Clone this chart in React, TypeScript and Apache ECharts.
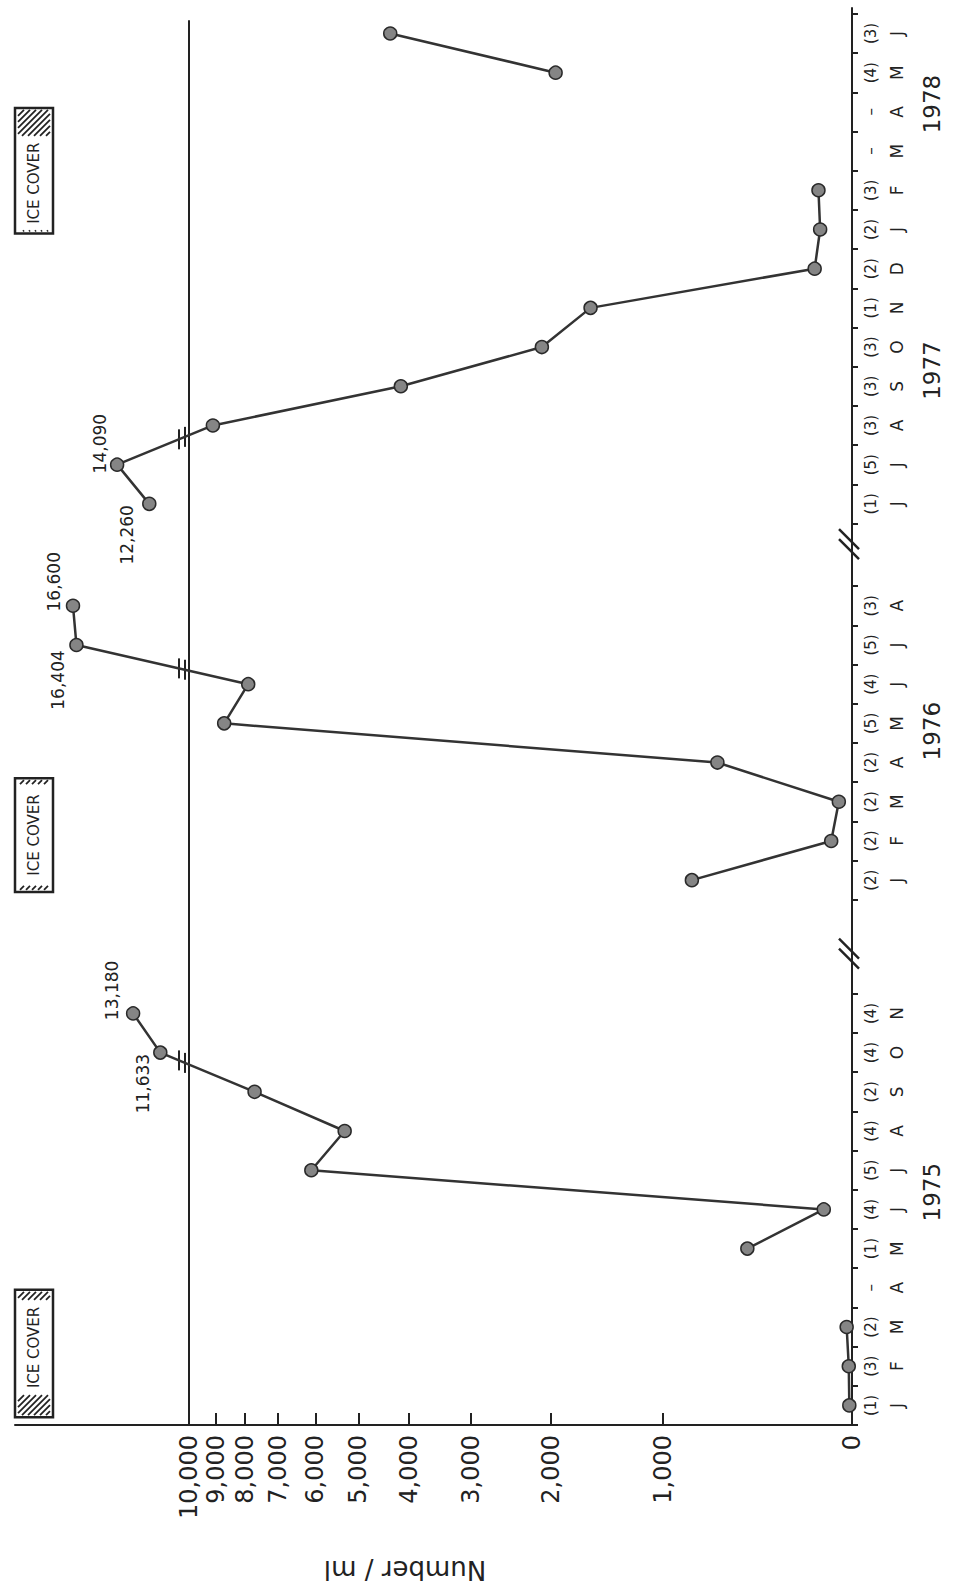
import React, { useEffect, useRef } from 'react';
import * as echarts from 'echarts';

// ---------------- data ----------------
const months1975 = ['J', 'F', 'M', 'A', 'M', 'J', 'J', 'A', 'S', 'O', 'N'];
const counts1975 = ['(1)', '(3)', '(2)', '–', '(1)', '(4)', '(5)', '(4)', '(2)', '(4)', '(4)'];
const values1975: (number | null)[] = [10, 12, 20, null, 470, 110, 6100, 5300, 7700, 11633, 13180];

const months1976 = ['J', 'F', 'M', 'A', 'M', 'J', 'J', 'A'];
const counts1976 = ['(2)', '(2)', '(2)', '(2)', '(5)', '(4)', '(5)', '(3)'];
const values1976: (number | null)[] = [800, 80, 50, 640, 8700, 7900, 16404, 16600];

const months1977 = ['J', 'J', 'A', 'S', 'O', 'N', 'D', 'J', 'F', 'M', 'A', 'M', 'J'];
const counts1977 = ['(1)', '(5)', '(3)', '(3)', '(3)', '(1)', '(2)', '(2)', '(3)', '–', '–', '(4)', '(3)'];
const values1977: (number | null)[] = [12260, 14090, 9100, 4150, 2100, 1600, 148, 125, 132, null, null, 1950, 4350];

const yearLabels = ['1975', '1976', '1977', '1978'];
const valueTicks = [0, 1000, 2000, 3000, 4000, 5000, 6000, 7000, 8000, 9000, 10000];
const valueTickLabels = ['0', '1,000', '2,000', '3,000', '4,000', '5,000', '6,000', '7,000', '8,000', '9,000', '10,000'];
const iceCoverLabel = 'ICE COVER';
const axisTitle = 'Number / ml';

// ice cover periods along the time axis (month units from Jan 1975)
const iceCoverPeriods: [number, number][] = [[0.2, 3.45], [13.6, 16.5], [30.4, 33.6]];

// ---------------- layout / scale ----------------
const SCALE_C = 1040;
const BREAK_VALUE = 10000;
const BEYOND_SLOPE = 2.72e-5;
const T_BREAK = Math.log10(BREAK_VALUE / SCALE_C + 1);
const fwd = (v: number) =>
  v <= BREAK_VALUE ? Math.log10(v / SCALE_C + 1) : T_BREAK + (v - BREAK_VALUE) * BEYOND_SLOPE;

const GRID = { left: 15, right: 103, top: 8, bottom: 162 };
const TMAX = 1.2952;
const YMAX = 36.15;

const segStarts = [0.5, 13.9, 23.5];
const yearPositions = [5.94, 17.7, 26.9, 33.7];
const axisBreaks = [12.0, 22.45];
const timeTicks: number[] = [];
for (let i = 0; i <= 11; i++) timeTicks.push(i);
for (let i = 0; i <= 8; i++) timeTicks.push(13.4 + i);
for (let i = 0; i <= 13; i++) timeTicks.push(23 + i);

const annotOffsets: Record<string, [number, number]> = {
  '11633': [-17, 31],
  '13180': [-21, -23],
  '16404': [-18, 35],
  '16600': [-19, -24],
  '12260': [-22, 31],
  '14090': [-17, -21],
};
const iceHatch = [
  { top: 10, bottom: 22 },
  { top: 6, bottom: 6 },
  { top: 28, bottom: 3 },
];
const ICE_X = 15;
const ICE_W = 38;

const INK = '#222';
const FONT = '"DejaVu Sans", sans-serif';

const segments = [
  { months: months1975, counts: counts1975, values: values1975, start: segStarts[0] },
  { months: months1976, counts: counts1976, values: values1976, start: segStarts[1] },
  { months: months1977, counts: counts1977, values: values1977, start: segStarts[2] },
];

export default function App() {
  const ref = useRef<HTMLDivElement>(null);

  useEffect(() => {
    const el = ref.current!;
    const chart = echarts.init(el, null, { renderer: 'svg' });

    const series: any[] = [];
    const runs: { v: number; p: number }[][] = [];
    segments.forEach((seg) => {
      let run: { v: number; p: number }[] = [];
      seg.values.forEach((v, i) => {
        if (v == null) {
          if (run.length) runs.push(run);
          run = [];
        } else run.push({ v, p: seg.start + i });
      });
      if (run.length) runs.push(run);
    });
    runs.forEach((run, k) => {
      series.push({
        type: 'line',
        data: run.map((d) => [fwd(d.v), d.p]),
        symbol: 'circle',
        symbolSize: 13,
        showSymbol: true,
        clip: false,
        z: 5,
        silent: true,
        lineStyle: { color: '#333', width: 2.5 },
        itemStyle: { color: '#858585', borderColor: '#2a2a2a', borderWidth: 1.5 },
        emphasis: { disabled: true },
        markLine:
          k === 0
            ? {
                symbol: 'none',
                silent: true,
                animation: false,
                label: { show: false },
                lineStyle: { color: INK, width: 2, type: 'solid' },
                data: [[{ coord: [fwd(BREAK_VALUE), 0] }, { coord: [fwd(BREAK_VALUE), 35.84] }]],
              }
            : undefined,
      });
    });

    const tickT = valueTicks.map(fwd);
    chart.setOption({
      animation: false,
      backgroundColor: '#fff',
      grid: { ...GRID },
      xAxis: {
        type: 'value',
        inverse: true,
        min: 0,
        max: TMAX,
        position: 'bottom',
        axisLine: { show: true, onZero: false, lineStyle: { color: INK, width: 2 } },
        axisTick: {
          show: true,
          inside: true,
          length: 12,
          customValues: tickT,
          lineStyle: { color: INK, width: 2 },
        },
        axisLabel: {
          show: true,
          customValues: tickT,
          rotate: 90,
          margin: 10,
          color: INK,
          fontSize: 24,
          fontFamily: FONT,
          formatter: (val: number) => {
            let best = 0;
            tickT.forEach((t, i) => {
              if (Math.abs(t - val) < Math.abs(tickT[best] - val)) best = i;
            });
            return valueTickLabels[best];
          },
        },
        splitLine: { show: false },
      },
      yAxis: {
        type: 'value',
        min: 0,
        max: YMAX,
        position: 'right',
        axisLine: { show: true, onZero: false, lineStyle: { color: INK, width: 2 } },
        axisTick: {
          show: true,
          inside: false,
          length: 6,
          customValues: timeTicks,
          lineStyle: { color: INK, width: 2 },
        },
        axisLabel: { show: false },
        splitLine: { show: false },
      },
      series,
    });

    const toPx = (t: number, p: number) =>
      chart.convertToPixel({ gridIndex: 0 } as any, [t, p]) as number[];
    const ax = toPx(0, 0)[0];
    const x10k = toPx(fwd(BREAK_VALUE), 0)[0];
    const g: any[] = [];
    const txt = (text: string, x: number, y: number, size: number, rot = Math.PI / 2) => ({
      type: 'text',
      x,
      y,
      rotation: rot,
      silent: true,
      z: 10,
      style: {
        text,
        fill: INK,
        font: `${size}px ${FONT}`,
        align: 'center',
        verticalAlign: 'middle',
        textAlign: 'center',
        textVerticalAlign: 'middle',
      },
    });
    const line = (x1: number, y1: number, x2: number, y2: number, w = 2.5) => ({
      type: 'line',
      silent: true,
      shape: { x1, y1, x2, y2 },
      style: { stroke: INK, lineWidth: w },
    });

    // month counts, month letters
    segments.forEach((seg) => {
      seg.months.forEach((m, i) => {
        const y = toPx(0, seg.start + i)[1];
        g.push(txt(seg.counts[i], ax + 19, y, 15));
        g.push(txt(m, ax + 45, y, 17));
      });
    });
    yearLabels.forEach((yr, i) => {
      const y = toPx(0, yearPositions[i])[1];
      g.push(txt(yr, ax + 80, y, 23));
    });

    // axis breaks on the time axis
    axisBreaks.forEach((p) => {
      const y = toPx(0, p)[1];
      [-5, 5].forEach((d) => g.push(line(ax - 13, y + d - 11, ax + 7, y + d + 9, 2.5)));
    });

    // break marks on segments crossing 10,000, annotations
    runs.forEach((run) => {
      const pts = run.map((d) => toPx(fwd(d.v), d.p));
      for (let i = 0; i + 1 < run.length; i++) {
        const a = run[i], b = run[i + 1];
        if ((a.v <= BREAK_VALUE) !== (b.v <= BREAK_VALUE)) {
          const pa = pts[i], pb = pts[i + 1];
          [x10k - 10, x10k - 4].forEach((xm) => {
            const f = (xm - pa[0]) / (pb[0] - pa[0]);
            const ym = pa[1] + f * (pb[1] - pa[1]);
            g.push(line(xm, ym - 10, xm, ym + 10, 2));
          });
        }
      }
      run.forEach((d, i) => {
        if (d.v > BREAK_VALUE) {
          const off = annotOffsets[String(d.v)] || [-18, -25];
          g.push(txt(d.v.toLocaleString('en-US'), pts[i][0] + off[0], pts[i][1] + off[1], 17));
        }
      });
    });

    // ice cover boxes
    iceCoverPeriods.forEach(([a, b], k) => {
      const yBot = toPx(0, a)[1];
      const yTop = toPx(0, b)[1];
      const xl = ICE_X, xr = ICE_X + ICE_W;
      g.push({
        type: 'rect',
        silent: true,
        shape: { x: xl, y: yTop, width: ICE_W, height: yBot - yTop },
        style: { fill: '#fff', stroke: INK, lineWidth: 2.5 },
      });
      const hatchRegion = (ys: number, ye: number) => {
        const lo = xl + 3, hi = xr - 3;
        for (let c = lo - (ye - ys); c < hi; c += 6) {
          const y1 = Math.min(ye, c + ye - lo);
          const y2 = Math.max(ys, c + ye - hi);
          if (y1 <= y2) continue;
          g.push(line(c + (ye - y1), y1, c + (ye - y2), y2, 1.8));
        }
      };
      const h = iceHatch[k];
      if (h.top > 0) hatchRegion(yTop + 2, yTop + h.top);
      if (h.bottom > 0) hatchRegion(yBot - h.bottom, yBot - 2);
      const cy = (yTop + h.top + yBot - h.bottom) / 2;
      g.push(txt(iceCoverLabel, xl + ICE_W / 2, cy, 15));
    });

    // axis title (upside down)
    g.push(txt(axisTitle, 405, 1570, 26, Math.PI));

    chart.setOption({ graphic: g });
    return () => chart.dispose();
  }, []);

  return (
    <div
      ref={ref}
      style={{ position: 'absolute', left: 0, top: 0, width: 955, height: 1587, background: '#fff' }}
    />
  );
}
